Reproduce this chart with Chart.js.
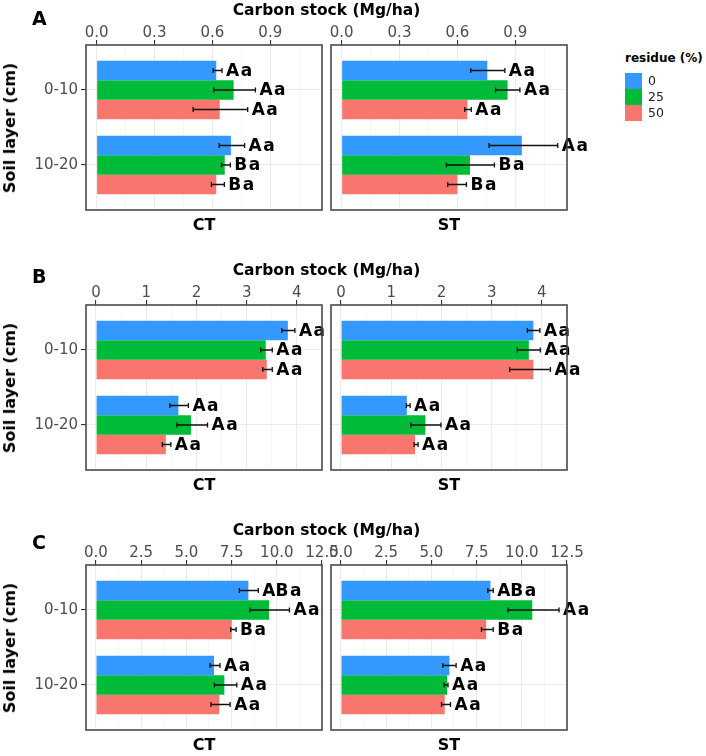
<!DOCTYPE html>
<html>
<head>
<meta charset="utf-8">
<script src="https://cdn.jsdelivr.net/npm/chart.js@4.4.0/dist/chart.umd.min.js"></script>
<style>
body { margin: 0; background: #fff; }
#wrap { position: relative; width: 706px; height: 756px; overflow: hidden; font-family: "DejaVu Sans", sans-serif; }
#wrap canvas { position: absolute; }
.txt { position: absolute; white-space: nowrap; line-height: 1; transform: translate(-50%, -50%); color: #000; font-weight: bold; }
.lft { position: absolute; white-space: nowrap; line-height: 1; transform: translate(0, -50%); }
.key { position: absolute; width: 17px; height: 15.5px; }
</style>
</head>
<body>
<div id="wrap"></div>
<script>
var layers = ['0-10', '10-20'];
var residues = ['0', '25', '50'];
var facets = ['CT', 'ST'];

// every array below: one row per residue (0, 25, 50), one column per layer (0-10, 10-20)
// A
var A_CT_mean = [[0.62, 0.696], [0.71, 0.664], [0.638, 0.62]];
var A_CT_lo   = [[0.604, 0.635], [0.607, 0.647], [0.50, 0.595]];
var A_CT_hi   = [[0.650, 0.767], [0.823, 0.693], [0.783, 0.662]];
var A_CT_lab  = [['Aa', 'Aa'], ['Aa', 'Ba'], ['Aa', 'Ba']];
var A_ST_mean = [[0.755, 0.934], [0.86, 0.665], [0.652, 0.60]];
var A_ST_lo   = [[0.669, 0.764], [0.798, 0.543], [0.638, 0.55]];
var A_ST_hi   = [[0.846, 1.12], [0.924, 0.792], [0.672, 0.647]];
var A_ST_lab  = [['Aa', 'Aa'], ['Aa', 'Ba'], ['Aa', 'Ba']];
var A_ticks = [0, 0.3, 0.6, 0.9];
var A_tickLabels = ['0.0', '0.3', '0.6', '0.9'];
var A_range = [-0.055, 1.168];

// B
var B_CT_mean = [[3.82, 1.64], [3.38, 1.89], [3.40, 1.39]];
var B_CT_lo   = [[3.70, 1.47], [3.28, 1.61], [3.32, 1.32]];
var B_CT_hi   = [[3.96, 1.84], [3.51, 2.22], [3.51, 1.49]];
var B_CT_lab  = [['Aa', 'Aa'], ['Aa', 'Aa'], ['Aa', 'Aa']];
var B_ST_mean = [[3.83, 1.31], [3.74, 1.68], [3.83, 1.475]];
var B_ST_lo   = [[3.71, 1.30], [3.51, 1.39], [3.36, 1.455]];
var B_ST_hi   = [[3.96, 1.375], [3.97, 1.99], [4.17, 1.535]];
var B_ST_lab  = [['Aa', 'Aa'], ['Aa', 'Aa'], ['Aa', 'Aa']];
var B_ticks = [0, 1, 2, 3, 4];
var B_tickLabels = ['0', '1', '2', '3', '4'];
var B_range = [-0.2, 4.5];

// C
var C_CT_mean = [[8.43, 6.53], [9.57, 7.10], [7.51, 6.82]];
var C_CT_lo   = [[7.93, 6.31], [8.52, 6.55], [7.45, 6.36]];
var C_CT_hi   = [[8.98, 6.86], [10.70, 7.79], [7.75, 7.42]];
var C_CT_lab  = [['ABa', 'Aa'], ['Aa', 'Aa'], ['Ba', 'Aa']];
var C_ST_mean = [[8.27, 6.0], [10.58, 5.87], [8.03, 5.74]];
var C_ST_lo   = [[8.12, 5.63], [9.23, 5.70], [7.77, 5.56]];
var C_ST_hi   = [[8.42, 6.37], [12.06, 5.92], [8.42, 6.06]];
var C_ST_lab  = [['ABa', 'Aa'], ['Aa', 'Aa'], ['Ba', 'Aa']];
var C_ticks = [0, 2.5, 5, 7.5, 10, 12.5];
var C_tickLabels = ['0.0', '2.5', '5.0', '7.5', '10.0', '12.5'];
var C_range = [-0.55, 12.5];

var colours = ['#3399ff', '#00bb38', '#f8766d'];

var rows = [
    {letter: 'A', ticks: A_ticks, tickLabels: A_tickLabels, range: A_range,
     panels: [{mean: A_CT_mean, lo: A_CT_lo, hi: A_CT_hi, lab: A_CT_lab},
              {mean: A_ST_mean, lo: A_ST_lo, hi: A_ST_hi, lab: A_ST_lab}]},
    {letter: 'B', ticks: B_ticks, tickLabels: B_tickLabels, range: B_range,
     panels: [{mean: B_CT_mean, lo: B_CT_lo, hi: B_CT_hi, lab: B_CT_lab},
              {mean: B_ST_mean, lo: B_ST_lo, hi: B_ST_hi, lab: B_ST_lab}]},
    {letter: 'C', ticks: C_ticks, tickLabels: C_tickLabels, range: C_range,
     panels: [{mean: C_CT_mean, lo: C_CT_lo, hi: C_CT_hi, lab: C_CT_lab},
              {mean: C_ST_mean, lo: C_ST_lo, hi: C_ST_hi, lab: C_ST_lab}]}
];

// layout (px)
var boxTop = [45, 305, 565];
var boxH = 165;
var letterY = [18, 276, 542];
var boxX = [[86, 322], [331, 567]];
var canvasX = [[0, 345], [250, 600]];
var AXIS_H = 40;

Chart.defaults.font.family = '"DejaVu Sans", sans-serif';

var wrap = document.getElementById('wrap');

function addText(cls, txt, x, y, size, extra) {
    var d = document.createElement('div');
    d.className = cls;
    d.textContent = txt;
    d.style.left = x + 'px';
    d.style.top = y + 'px';
    d.style.fontSize = size + 'px';
    if (extra) {
        for (var k in extra) d.style[k] = extra[k];
    }
    wrap.appendChild(d);
    return d;
}

function noPad(s) {
    s.paddingTop = 0; s.paddingBottom = 0;
    s.paddingLeft = 0; s.paddingRight = 0;
}

function extrasPlugin(p) {
    return {
        id: 'extras',
        afterDatasetsDraw: function(chart) {
            var ctx = chart.ctx, xs = chart.scales.x;
            ctx.save();
            for (var i = 0; i < residues.length; i++) {
                var meta = chart.getDatasetMeta(i);
                meta.data.forEach(function(bar, j) {
                    var x1 = xs.getPixelForValue(p.lo[i][j]);
                    var x2 = xs.getPixelForValue(p.hi[i][j]);
                    var y = bar.y;
                    ctx.strokeStyle = '#111';
                    ctx.lineWidth = 1.3;
                    ctx.beginPath();
                    ctx.moveTo(x1, y); ctx.lineTo(x2, y);
                    ctx.moveTo(x1, y - 2.5); ctx.lineTo(x1, y + 2.5);
                    ctx.moveTo(x2, y - 2.5); ctx.lineTo(x2, y + 2.5);
                    ctx.stroke();
                    var txt = p.lab[i][j];
                    var up = txt.replace(/[a-z]/g, ''), low = txt.replace(/[A-Z]/g, '');
                    ctx.font = 'bold 17px "DejaVu Sans"';
                    ctx.fillStyle = '#000';
                    ctx.textBaseline = 'middle';
                    ctx.textAlign = 'left';
                    var tx = x2 + 4;
                    ctx.fillText(up, tx, y + 1);
                    ctx.fillText(low, tx + ctx.measureText(up).width + 1.5, y + 1);
                });
            }
            ctx.restore();
        },
        afterDraw: function(chart) {
            var a = chart.chartArea, ctx = chart.ctx;
            ctx.save();
            ctx.strokeStyle = '#4a4a4a';
            ctx.lineWidth = 1.6;
            ctx.strokeRect(a.left, a.top, a.right - a.left, a.bottom - a.top);
            ctx.restore();
        }
    };
}

rows.forEach(function(row, r) {
    var minors = [];
    for (var k = 0; k < row.ticks.length; k++) {
        var step = row.ticks[1] - row.ticks[0];
        var m = row.ticks[k] + step / 2;
        if (m < row.range[1] - step * 0.05) minors.push(m);
    }
    var allTicks = row.ticks.concat(minors).sort(function(a, b) { return a - b; });
    function isMinor(v) { return row.ticks.indexOf(v) < 0; }

    row.panels.forEach(function(p, f) {
        var cx0 = canvasX[f][0], cx1 = canvasX[f][1];
        var w = cx1 - cx0, h = AXIS_H + boxH + 6;
        var c = document.createElement('canvas');
        c.width = w; c.height = h;
        c.style.left = cx0 + 'px';
        c.style.top = (boxTop[r] - AXIS_H) + 'px';
        c.style.width = w + 'px';
        c.style.height = h + 'px';
        wrap.appendChild(c);

        var showY = (f === 0);
        var yW = boxX[f][0] - cx0;
        var padR = cx1 - boxX[f][1];

        var datasets = residues.map(function(res, i) {
            return {
                label: res,
                backgroundColor: colours[i],
                borderWidth: 0,
                data: layers.map(function(l, j) { return {x: p.mean[i][j], y: j + 1}; })
            };
        });

        new Chart(c.getContext('2d'), {
            type: 'bar',
            data: {datasets: datasets},
            options: {
                responsive: false,
                animation: false,
                indexAxis: 'y',
                layout: {padding: {left: 0, top: 0, right: padR, bottom: 6}},
                plugins: {legend: {display: false}, tooltip: {enabled: false}},
                datasets: {bar: {categoryPercentage: 0.78, barPercentage: 1}},
                scales: {
                    x: {
                        type: 'linear',
                        position: 'top',
                        bounds: 'data',
                        offset: false,
                        beginAtZero: false,
                        min: row.range[0],
                        max: row.range[1],
                        afterBuildTicks: function(s) { s.ticks = allTicks.map(function(v) { return {value: v}; }); },
                        afterFit: function(s) { s.height = AXIS_H; noPad(s); },
                        ticks: {
                            autoSkip: false, maxRotation: 0, minRotation: 0, padding: -2,
                            color: '#4d4d4d', font: {size: 15},
                            callback: function(v) { var k = row.ticks.indexOf(v); return k < 0 ? '' : row.tickLabels[k]; }
                        },
                        grid: {
                            offset: false,
                            color: function(ctx) { return ctx.tick && isMinor(ctx.tick.value) ? '#f4f4f4' : '#ebebeb'; },
                            lineWidth: function(ctx) { return ctx.tick && isMinor(ctx.tick.value) ? 0.7 : 1.1; },
                            tickColor: function(ctx) { return ctx.tick && isMinor(ctx.tick.value) ? 'rgba(0,0,0,0)' : '#333'; },
                            tickLength: 5,
                            drawTicks: true
                        },
                        border: {display: false}
                    },
                    y: {
                        type: 'linear',
                        reverse: true,
                        bounds: 'data',
                        offset: false,
                        min: 0.4,
                        max: 2.6,
                        afterBuildTicks: function(s) { s.ticks = layers.map(function(l, j) { return {value: j + 1}; }); },
                        afterFit: function(s) { s.width = yW; noPad(s); },
                        ticks: {
                            display: showY, padding: 3, color: '#4d4d4d', font: {size: 15},
                            callback: function(v) { return layers[v - 1]; }
                        },
                        grid: {offset: false, color: '#ebebeb', lineWidth: 1.1, drawTicks: showY, tickColor: '#333', tickLength: 5},
                        border: {display: false}
                    }
                }
            },
            plugins: [extrasPlugin(p)]
        });

        // facet strip label under the panel
        addText('txt', facets[f], (boxX[f][0] + boxX[f][1]) / 2, boxTop[r] + boxH + 15, 16);
    });

    addText('txt', 'Carbon stock (Mg/ha)', (boxX[0][0] + boxX[1][1]) / 2, boxTop[r] - 34, 15.5);
    addText('lft', row.letter, 32, letterY[r], 19, {fontWeight: 'bold'});
    addText('txt', 'Soil layer (cm)', 9.5, boxTop[r] + boxH / 2, 16, {transform: 'translate(-50%, -50%) rotate(-90deg)'});
});

// legend
addText('lft', 'residue (%)', 625, 58, 12, {fontWeight: 'bold'});
residues.forEach(function(res, i) {
    var k = document.createElement('div');
    k.className = 'key';
    k.style.left = '625px';
    k.style.top = (73 + i * 16) + 'px';
    k.style.background = colours[i];
    wrap.appendChild(k);
    addText('lft', res, 648, 81 + i * 16, 12.5, {color: '#222'});
});
</script>
</body>
</html>
